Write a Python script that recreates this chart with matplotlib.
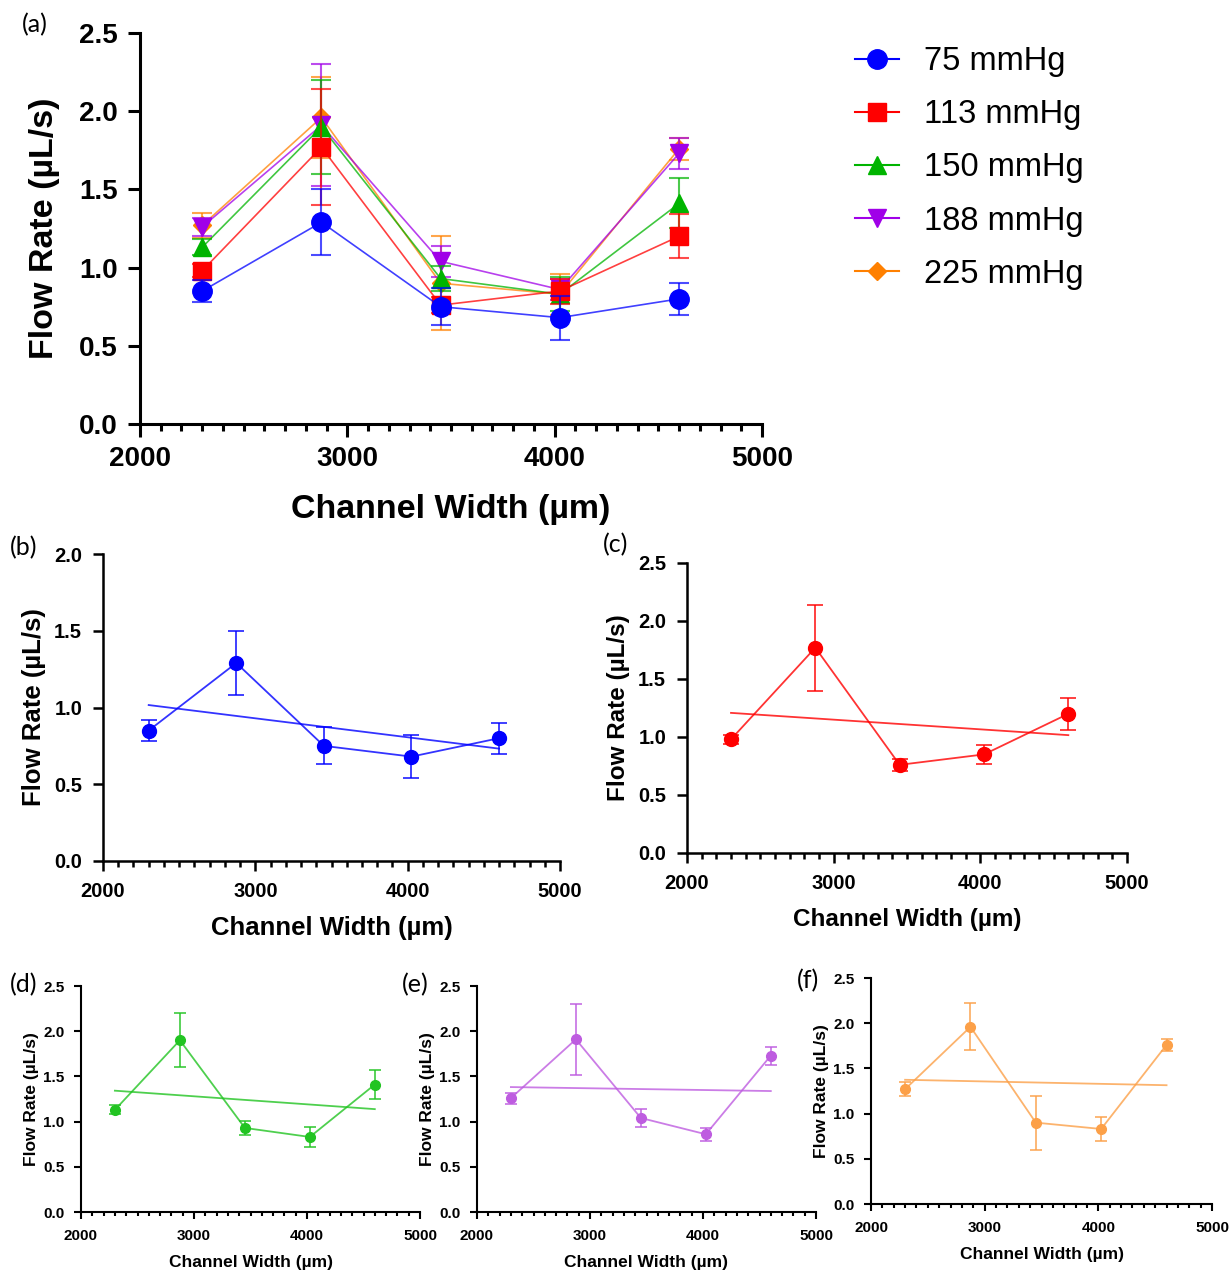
import numpy as np
import matplotlib
matplotlib.use('Agg')
import matplotlib.pyplot as plt
from matplotlib.ticker import MultipleLocator

plt.rcParams['font.family'] = ['Liberation Sans', 'DejaVu Sans']

# Data
widths = [2300, 2875, 3450, 4025, 4600]  # channel width (um)
pressures = ['75 mmHg', '113 mmHg', '150 mmHg', '188 mmHg', '225 mmHg']

flow_75 = [0.85, 1.29, 0.75, 0.68, 0.80]
err_75 = [0.07, 0.21, 0.12, 0.14, 0.10]
flow_113 = [0.98, 1.77, 0.76, 0.85, 1.20]
err_113 = [0.04, 0.37, 0.05, 0.08, 0.14]
flow_150 = [1.13, 1.90, 0.93, 0.83, 1.41]
err_150 = [0.05, 0.30, 0.08, 0.11, 0.16]
flow_188 = [1.26, 1.91, 1.04, 0.86, 1.73]
err_188 = [0.06, 0.39, 0.10, 0.07, 0.10]
flow_225 = [1.27, 1.96, 0.90, 0.83, 1.76]
err_225 = [0.08, 0.26, 0.30, 0.13, 0.07]

flows = [flow_75, flow_113, flow_150, flow_188, flow_225]
errs = [err_75, err_113, err_150, err_188, err_225]

# styles
main_colors = ['#0000FF', '#FF0000', '#00B400', '#A000E8', '#FF8000']
main_markers = ['o', 's', '^', 'v', 'D']
main_msize = [14, 13, 13, 13, 9]
sub_colors = ['#0000FF', '#FF0000', '#22C422', '#BE5CE0', '#FCA048']

W, H = 1230, 1270
fig = plt.figure(figsize=(W / 100, H / 100), dpi=100)


def make_axes(left, top, right, bottom):
    return fig.add_axes([left / W, 1 - bottom / H, (right - left) / W, (bottom - top) / H])


def style_axes(ax, ymax, tick_fs, label_fs, spine_w, major_len, minor_len, tickpad, xpad, ypad):
    ax.set_xlim(2000, 5000)
    ax.set_ylim(0, ymax)
    ax.xaxis.set_major_locator(MultipleLocator(1000))
    ax.xaxis.set_minor_locator(MultipleLocator(100))
    ax.yaxis.set_major_locator(MultipleLocator(0.5))
    ax.yaxis.set_major_formatter(matplotlib.ticker.FormatStrFormatter('%.1f'))
    for s in ['top', 'right']:
        ax.spines[s].set_visible(False)
    for s in ['left', 'bottom']:
        ax.spines[s].set_linewidth(spine_w)
    ax.tick_params(which='major', length=major_len, width=spine_w, labelsize=tick_fs, pad=tickpad)
    ax.tick_params(which='minor', length=minor_len, width=spine_w)
    for lab in ax.get_xticklabels() + ax.get_yticklabels():
        lab.set_fontweight('bold')
    ax.set_xlabel('Channel Width (µm)', fontsize=label_fs, fontweight='bold', labelpad=xpad)
    ax.set_ylabel('Flow Rate (µL/s)', fontsize=label_fs, fontweight='bold', labelpad=ypad)


# (a) all pressures, 225 mmHg drawn first so 75 mmHg ends on top
ax = make_axes(140, 33, 762, 424)
handles = []
for i in range(5):
    c = main_colors[i]
    z = 10 - 2 * i
    ax.errorbar(widths, flows[i], yerr=errs[i], fmt='none', ecolor=c, elinewidth=1.5,
                capsize=7, capthick=1.5, alpha=0.7, zorder=z)
    ax.plot(widths, flows[i], color=c, lw=1.2, alpha=0.75, zorder=z)
    ax.plot(widths, flows[i], ls='none', marker=main_markers[i], ms=main_msize[i],
            color=c, zorder=z + 1)
    h, = ax.plot([], [], color=c, lw=1.5, marker=main_markers[i], ms=main_msize[i])
    handles.append(h)
style_axes(ax, 2.5, 20, 24.5, 2.2, 9, 5, 7, 16, 14)
fig.legend(handles, pressures, loc='upper left', bbox_to_anchor=(855 / W, 1 - 46 / H),
           frameon=False, fontsize=23.5, handlelength=1.35, handletextpad=0.75,
           labelspacing=0.68, borderpad=0, borderaxespad=0)
fig.text(22 / W, 1 - 25 / H, '(a)', fontsize=18, family='Lato', va='center')

# (b)-(f) single pressures with linear fit
panels = [
    ('(b)', (103, 554, 560, 861), 2.0, 14.5, 18.5, 1.8, 10, (10, 548)),
    ('(c)', (687, 563, 1127, 853), 2.5, 14.5, 17.5, 1.8, 10, (603, 545)),
    ('(d)', (81, 986, 420, 1212), 2.5, 11, 12.5, 1.5, 7, (10, 985)),
    ('(e)', (477, 986, 816, 1212), 2.5, 11, 12.5, 1.5, 7, (402, 985)),
    ('(f)', (871, 978, 1212, 1204), 2.5, 11, 12.5, 1.5, 7, (797, 981)),
]
for i, (tag, box, ymax, tfs, lfs, sw, ms, tpos) in enumerate(panels):
    ax = make_axes(*box)
    c = sub_colors[i]
    ax.errorbar(widths, flows[i], yerr=errs[i], fmt='none', ecolor=c, elinewidth=1.4,
                capsize=ms * 0.6, capthick=1.4, alpha=0.75, zorder=2)
    ax.plot(widths, flows[i], color=c, lw=1.3, alpha=0.8, zorder=3)
    ax.plot(widths, flows[i], ls='none', marker='o', ms=ms, color=c, zorder=4)
    # least-squares trend line over the measured widths
    k, b = np.polyfit(widths, flows[i], 1)
    xf = np.array([widths[0], widths[-1]])
    ax.plot(xf, k * xf + b, color=c, lw=1.3, alpha=0.8, zorder=3)
    if i < 2:
        style_axes(ax, ymax, tfs, lfs, sw, 7, 4, 8, 11, 6)
    else:
        style_axes(ax, ymax, tfs, lfs, sw, 5, 3, 7, 9, 3)
    fig.text(tpos[0] / W, 1 - tpos[1] / H, tag, fontsize=18, family='Lato', va='center')

fig.savefig('out.png', dpi=100)
